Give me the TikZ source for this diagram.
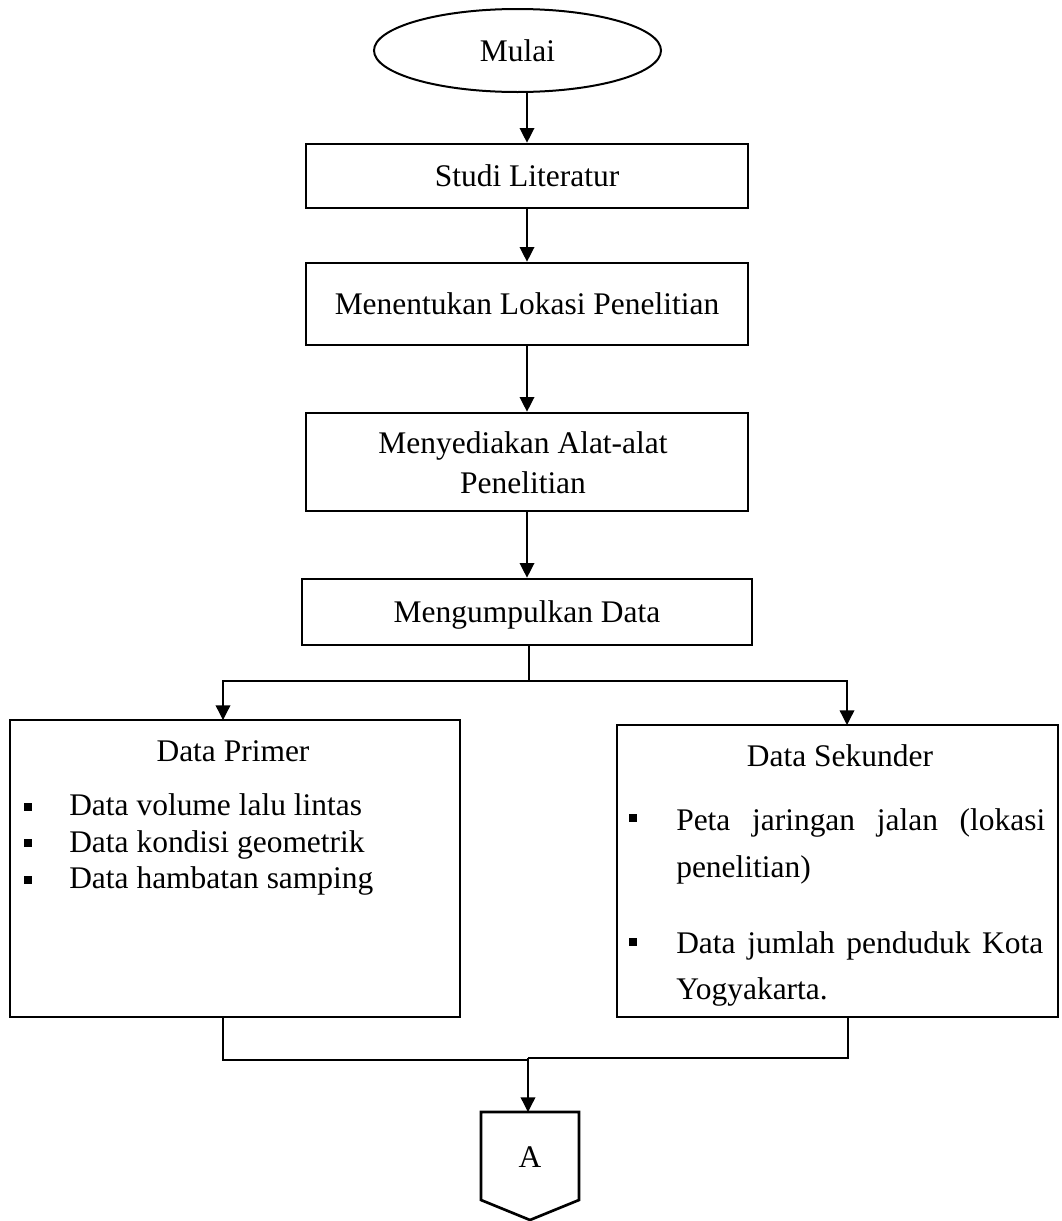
\documentclass[tikz,border=0pt]{standalone}
\usepackage{fontspec}
\setmainfont{Liberation Serif}
\usetikzlibrary{shapes.geometric,arrows.meta}
\begin{document}
\begin{tikzpicture}[x=0.75pt,y=-0.75pt,
  txt/.style={font=\fontsize{23.6}{30}\selectfont,inner sep=0pt},
  box/.style={draw,line width=2pt,inner sep=0pt,font=\fontsize{23.6}{30}\selectfont,text height=21.2pt,text depth=5.7pt},
  conn/.style={line width=1pt},
  arr/.style={line width=1pt,-{Triangle[length=11pt,width=11pt]}},
  bul/.style={fill=black,minimum size=6.5pt,inner sep=0pt},
]
\useasboundingbox (0,0) rectangle (1062,1221);

% start
\node[draw,ellipse,line width=1.5pt,minimum width=215.25pt,minimum height=62.25pt,txt] (ell) at (517.5,50.5) {Mulai};

% process boxes
\node[box,minimum width=331.5pt,minimum height=48pt] (studi) at (527,176) {Studi Literatur};
\node[box,minimum width=331.5pt,minimum height=61.5pt] (ment) at (527,304) {Menentukan Lokasi Penelitian};
\node[draw,line width=2pt,minimum width=331.5pt,minimum height=73.5pt,inner sep=0pt] (alat) at (527,462) {};
\node[txt,anchor=base] (alat1) at (523,453) {Menyediakan Alat-alat};
\node[txt,anchor=base] (alat2) at (523,493) {Penelitian};
\node[box,minimum width=337.5pt,minimum height=49.5pt] (mgd) at (527,612) {Mengumpulkan Data};

% data primer
\node[draw,line width=2pt,minimum width=337.5pt,minimum height=222.75pt,inner sep=0pt] (dp) at (235,868.5) {};
\node[txt,anchor=base] (dpt) at (233,761) {Data Primer};
\node[bul] (b1) at (28,807) {};
\node[bul] (b2) at (28,843) {};
\node[bul] (b3) at (28,880) {};
\node[txt,anchor=base west] (dp1) at (69,815) {Data volume lalu lintas};
\node[txt,anchor=base west] (dp2) at (69,852) {Data kondisi geometrik};
\node[txt,anchor=base west] (dp3) at (69,888) {Data hambatan samping};

% data sekunder
\node[draw,line width=2pt,minimum width=330.75pt,minimum height=219pt,inner sep=0pt] (ds) at (837.5,871) {};
\node[txt,anchor=base] (dst) at (840,766) {Data Sekunder};
\node[bul] (b4) at (633,818) {};
\node[bul] (b5) at (633,942) {};
\node[txt,anchor=base west] (ds1) at (676,830) {\makebox[276.75pt][s]{Peta jaringan jalan (lokasi}};
\node[txt,anchor=base west] (ds2) at (676,877) {penelitian)};
\node[txt,anchor=base west] (ds3) at (676,953) {\makebox[275.25pt][s]{Data jumlah penduduk Kota}};
\node[txt,anchor=base west] (ds4) at (676,999) {Yogyakarta.};

% off-page connector A
\coordinate (atl) at (481,1112);
\coordinate (atr) at (579,1112);
\coordinate (abr) at (579,1200);
\coordinate (abt) at (530,1220);
\coordinate (abl) at (481,1200);
\draw[line width=2pt,line join=miter] (atl) -- (atr) -- (abr) -- (abt) -- (abl) -- cycle;
\node[txt] (A) at (530,1157) {A};
\coordinate (ain) at (528,1112);

% connectors
\draw[arr] (ell.south -| studi.north) -- (studi.north);
\draw[arr] (studi.south) -- (ment.north);
\draw[arr] (ment.south) -- (alat.north);
\draw[arr] (alat.south) -- (mgd.north);

\coordinate (split) at (529,681);
\coordinate (dpin) at (223,720);
\coordinate (dsin) at (847,725);
\draw[conn] (mgd.south -| split) -- (split);
\draw[arr] (split) -| (dpin);
\draw[arr] (split) -| (dsin);

\coordinate (dpout) at (223,1017);
\coordinate (dsout) at (848,1017);
\coordinate (joinl) at (528,1060);
\coordinate (joinr) at (528,1058);
\draw[conn] (dpout) |- (joinl);
\draw[conn] (dsout) |- (joinr);
\draw[arr] (joinr) -- (ain);
\end{tikzpicture}
\end{document}
